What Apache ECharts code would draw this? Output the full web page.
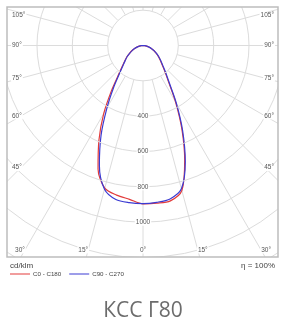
<!DOCTYPE html>
<html><head><meta charset="utf-8">
<script src="https://cdn.jsdelivr.net/npm/echarts@6/dist/echarts.min.js"></script>
<style>html,body{margin:0;padding:0;background:#fff}#c{width:286px;height:322px}</style>
</head><body><div id="c"></div>
<script>
// ---- data (cd/klm vs gamma angle) ----
const gammaDeg = [0, 5, 10, 15, 20, 25, 30, 35, 40, 45, 50, 55, 60, 65, 70, 75, 80, 85, 90];
const c0   = [896, 896, 893, 850, 690, 520, 368, 253, 193, 152, 126, 105, 84, 67, 50, 34, 21, 9, 0];
const c180 = [896, 874, 860, 836, 744, 590, 445, 310, 215, 165, 134, 111, 88, 70, 52, 36, 22, 10, 0];
const c90  = [895, 891, 882, 840, 700, 530, 378, 261, 199, 157, 130, 108, 87, 69, 52, 36, 22, 10, 0];
const c270 = [895, 893, 885, 842, 722, 562, 408, 290, 207, 160, 131, 109, 86, 68, 51, 35, 21, 9, 0];
const radialTicks = [400, 600, 800, 1000];
const angleTicks = [105, 90, 75, 60, 45, 30, 15, 0];
const seriesNames = ['C0 - C180', 'C90 - C270'];
const unitLabel = 'cd/klm';
const effLabel = 'η = 100%';
const titleText = 'КСС Г80';

// ---- layout ----
const W = 286, H = 322, cx = 143, cy = 45.5, pxPerCd = 0.17667, rMax = 1600;
const R = rMax * pxPerCd;
const frame = { x: 7, y: 7, w: 271, h: 250 };
const smallFont = '6.5px "Liberation Sans", Arial, sans-serif';
const red = '#e23b3b', blue = '#3b3bd2', grid = '#dcdcdc', txt = '#555';

function curve(right, left) {
  const d = [];
  for (let i = gammaDeg.length - 1; i >= 0; i--) d.push([right[i], 360 - gammaDeg[i]]);
  for (let i = 1; i < gammaDeg.length; i++) d.push([left[i], gammaDeg[i]]);
  return d;
}

const graphics = [];
[[0, 0, W, frame.y], [0, 0, frame.x, H], [frame.x + frame.w, 0, W - frame.x - frame.w, H],
 [0, frame.y + frame.h, W, H - frame.y - frame.h]].forEach(r => graphics.push({
  type: 'rect', silent: true, z: 50, shape: { x: r[0], y: r[1], width: r[2], height: r[3] }, style: { fill: '#fff' }
}));
graphics.push({ type: 'rect', z: 51, silent: true, shape: { x: frame.x, y: frame.y, width: frame.w, height: frame.h },
  style: { fill: null, stroke: '#bdbdbd', lineWidth: 1.5 } });

function addText(t, x, y, align, font, color, bg, z) {
  graphics.push({ type: 'text', z: z || 60, silent: true, style: {
    text: t, x: x, y: y, font: font, fill: color, align: align, textAlign: align,
    verticalAlign: 'middle', textVerticalAlign: 'middle',
    backgroundColor: bg || null, padding: bg ? [0, 1] : 0 } });
}
angleTicks.forEach(g => {
  const t = g + '°', a = g * Math.PI / 180;
  if (g >= 45) {
    const y = Math.max(15.7, cy + 122 * Math.cos(a) / Math.sin(a));
    addText(t, 11, y, 'left', smallFont, txt, '#fff', 30);
    addText(t, 275, y, 'right', smallFont, txt, '#fff', 30);
  } else {
    const y = 250;
    if (g === 0) { addText(t, cx, y, 'center', smallFont, txt, '#fff', 30); }
    else {
      const dx = 204.5 * Math.tan(a) + 5;
      addText(t, Math.max(17, cx - dx), y, 'center', smallFont, txt, '#fff', 30);
      addText(t, Math.min(268, cx + dx), y, 'center', smallFont, txt, '#fff', 30);
    }
  }
});
addText(unitLabel, 10, 266, 'left', '8px "Liberation Sans", Arial, sans-serif', '#444', null, 100);
addText(effLabel, 275, 266, 'right', '8px "Liberation Sans", Arial, sans-serif', '#444', null, 100);

const axisOff = { axisLine: { show: false }, axisTick: { show: false }, axisLabel: { show: false } };
const chart = echarts.init(document.getElementById('c'), null, { renderer: 'canvas' });
chart.setOption({
  animation: false,
  backgroundColor: '#fff',
  polar: [{ center: [cx, cy], radius: [0, R] }, { center: [cx, cy], radius: [200 * pxPerCd, R] }],
  angleAxis: [
    Object.assign({ polarIndex: 0, type: 'value', min: 0, max: 360, interval: 15, startAngle: 270, clockwise: true,
      splitLine: { show: false } }, axisOff),
    Object.assign({ polarIndex: 1, type: 'value', min: 0, max: 360, interval: 15, startAngle: 270, clockwise: true,
      splitLine: { show: true, lineStyle: { color: grid, width: 1 } }, z: 1 }, axisOff)
  ],
  radiusAxis: [
    { polarIndex: 0, type: 'value', min: 0, max: rMax, interval: 200, z: 10,
      axisLine: { show: false }, axisTick: { show: false },
      splitLine: { show: true, lineStyle: { color: grid, width: 1 } },
      axisLabel: { show: true, margin: 0, align: 'center', verticalAlign: 'middle', backgroundColor: '#fff',
        padding: [0, 1], fontSize: 6.5, color: txt, fontFamily: '"Liberation Sans", Arial, sans-serif',
        formatter: v => radialTicks.indexOf(v) >= 0 ? String(v) : '' } },
    { polarIndex: 1, type: 'value', min: 0, max: 1, show: false }
  ],
  legend: { left: 10, top: 271, padding: 0, itemWidth: 20, itemHeight: 1, itemGap: 8, z: 100,
    data: [{ name: seriesNames[0], icon: 'rect', itemStyle: { color: red } },
           { name: seriesNames[1], icon: 'rect', itemStyle: { color: blue } }],
    textStyle: { fontSize: 6.2, color: '#444', fontFamily: '"Liberation Sans", Arial, sans-serif', padding: [0, 0, 0, -2] } },
  title: { text: titleText, left: 'center', top: 296, z: 100,
    textStyle: { fontSize: 21, fontWeight: 'normal', color: '#6c6c6c', fontFamily: '"Open Sans", sans-serif' } },
  graphic: { elements: graphics },
  series: [
    { type: 'line', name: seriesNames[0], coordinateSystem: 'polar', polarIndex: 0, data: curve(c0, c180),
      symbol: 'none', smooth: 0.3, z: 3, color: red, lineStyle: { color: red, width: 1.2 }, itemStyle: { color: red } },
    { type: 'line', name: seriesNames[1], coordinateSystem: 'polar', polarIndex: 0, data: curve(c90, c270),
      symbol: 'none', smooth: 0.3, z: 3, color: blue, lineStyle: { color: blue, width: 1.2 }, itemStyle: { color: blue } }
  ]
});
</script></body></html>
